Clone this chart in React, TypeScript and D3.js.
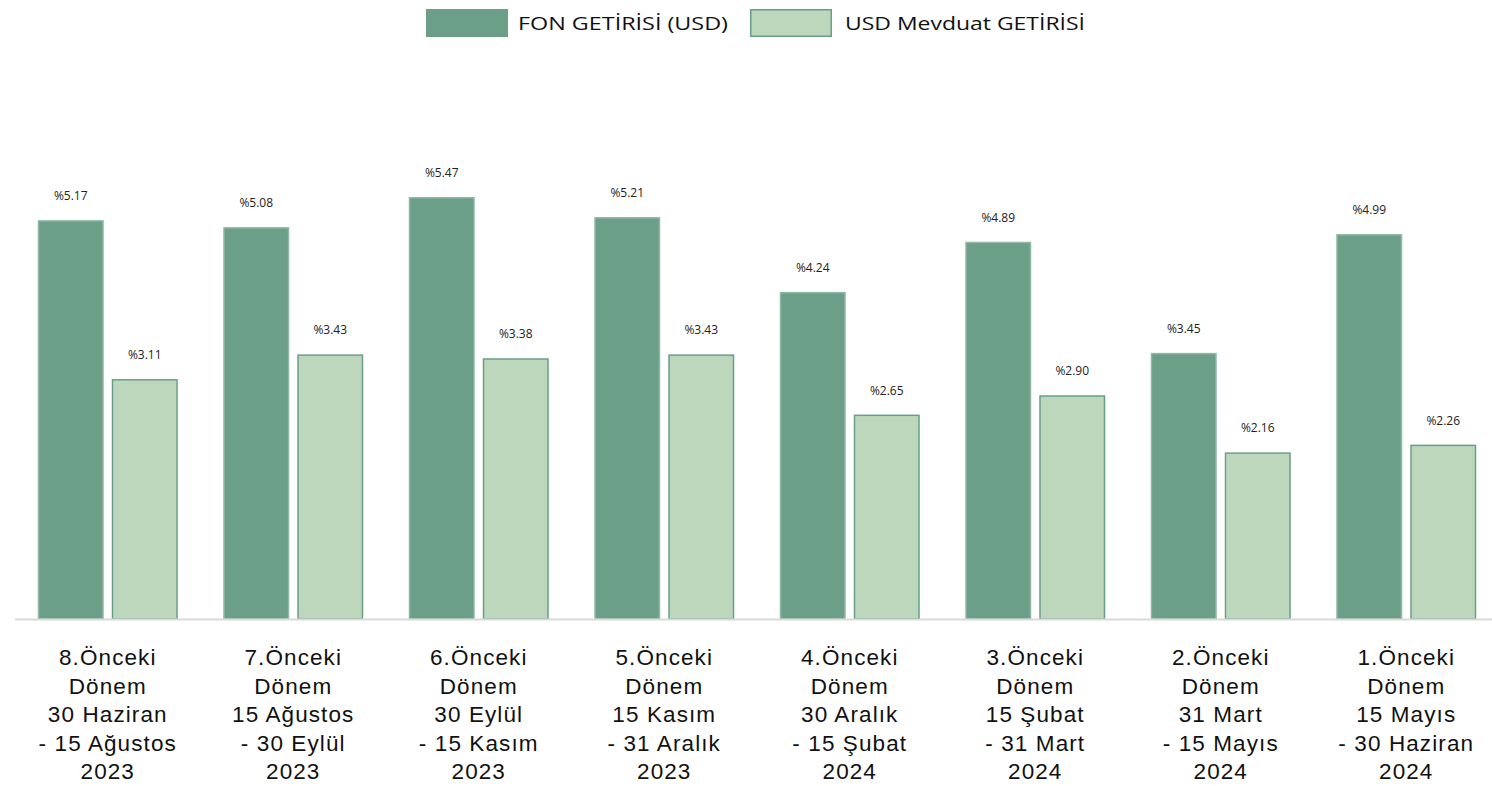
import { useMemo } from "react";
import * as d3 from "d3";

const categories = [
  ["8.Önceki", "Dönem", "30 Haziran", "- 15 Ağustos", "2023"],
  ["7.Önceki", "Dönem", "15 Ağustos", "- 30 Eylül", "2023"],
  ["6.Önceki", "Dönem", "30 Eylül", "- 15 Kasım", "2023"],
  ["5.Önceki", "Dönem", "15 Kasım", "- 31 Aralık", "2023"],
  ["4.Önceki", "Dönem", "30 Aralık", "- 15 Şubat", "2024"],
  ["3.Önceki", "Dönem", "15 Şubat", "- 31 Mart", "2024"],
  ["2.Önceki", "Dönem", "31 Mart", "- 15 Mayıs", "2024"],
  ["1.Önceki", "Dönem", "15 Mayıs", "- 30 Haziran", "2024"],
];
const fonGetirisi = [5.17, 5.08, 5.47, 5.21, 4.24, 4.89, 3.45, 4.99];
const mevduatGetirisi = [3.11, 3.43, 3.38, 3.43, 2.65, 2.9, 2.16, 2.26];
const seriesNames = ["FON GETİRİSİ (USD)", "USD Mevduat GETİRİSİ"];

const W = 1492;
const H = 786;
const DARK = "#6b9f88";
const LIGHT = "#bcd7bc";
const EDGE = "#6a9f87";

export default function App() {
  const x = useMemo(
    () =>
      d3
        .scaleBand<number>()
        .domain(d3.range(categories.length))
        .range([15, 1499])
        .paddingInner(0)
        .paddingOuter(0),
    [],
  );
  const y = useMemo(() => d3.scaleLinear().domain([0, 6]).range([619, 156.1]), []);

  const bw = 66;
  const gap = 8;
  const offsets = [-(gap / 2) - bw, gap / 2];
  const series = [fonGetirisi, mevduatGetirisi];

  return (
    <div style={{ position: "absolute", left: 0, top: 0 }}>
      <svg width={W} height={H} style={{ display: "block", background: "#fff" }}>
        {/* legend */}
        <g>
          <rect x={426} y={9} width={82} height={28} fill={DARK} />
          <text
            x={518}
            y={30}
            fontFamily="'Open Sans', sans-serif"
            fontSize={19}
            fill="#111"
            textLength={210}
            lengthAdjust="spacingAndGlyphs"
          >
            {seriesNames[0]}
          </text>
          <rect x={750.75} y={9.75} width={80.5} height={26.5} fill={LIGHT} stroke={EDGE} strokeWidth={1.5} />
          <text
            x={845}
            y={30}
            fontFamily="'Open Sans', sans-serif"
            fontSize={19}
            fill="#111"
            textLength={240}
            lengthAdjust="spacingAndGlyphs"
          >
            {seriesNames[1]}
          </text>
        </g>

        {/* bars */}
        {series.map((vals, si) =>
          vals.map((v, i) => {
            const cx = (x(i) ?? 0) + x.bandwidth() / 2;
            const bx = cx + offsets[si];
            const top = y(v);
            return (
              <g key={`${si}-${i}`}>
                <rect
                  x={bx + 0.75}
                  y={top + 0.75}
                  width={bw - 1.5}
                  height={y(0) - top - 0.75}
                  fill={si === 0 ? DARK : LIGHT}
                  stroke={si === 0 ? "#8fb8a5" : EDGE}
                  strokeWidth={1.5}
                />
                <text
                  x={bx + bw / 2}
                  y={top - 20}
                  textAnchor="middle"
                  fontFamily="'Open Sans', sans-serif"
                  fontSize={12}
                  fill="#222"
                >
                  {"%" + v.toFixed(2)}
                </text>
              </g>
            );
          }),
        )}

        {/* axis line */}
        <line x1={15} x2={W} y1={619.5} y2={619.5} stroke="#d9d9d9" strokeWidth={2} />

        {/* category labels */}
        {categories.map((lines, i) => {
          const cx = (x(i) ?? 0) + x.bandwidth() / 2;
          return (
            <text
              key={i}
              textAnchor="middle"
              fontFamily="'Liberation Sans', Arial, sans-serif"
              fontSize={22.5}
              letterSpacing={1.1}
              fill="#111"
            >
              {lines.map((l, j) => (
                <tspan key={j} x={cx} y={665 + j * 28.6}>
                  {l}
                </tspan>
              ))}
            </text>
          );
        })}
      </svg>
    </div>
  );
}
